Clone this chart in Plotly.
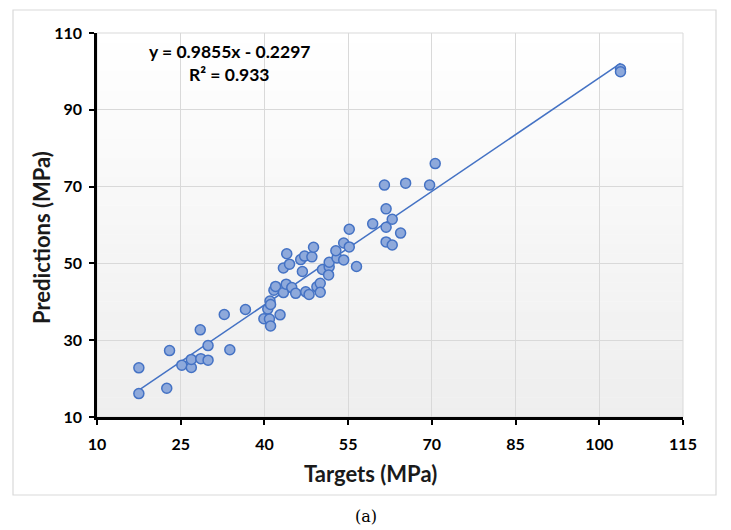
import plotly.graph_objects as go

# ---- data ----
targets = [17.5, 17.5, 22.5, 23.0, 25.2, 26.9, 26.9, 28.5, 28.6, 29.9, 29.9, 32.8, 33.8,
           36.6, 39.9, 40.6, 40.9, 41.1, 41.0, 41.1, 42.8, 41.7, 42.0, 43.4, 43.9, 43.4,
           44.5, 44.0, 44.9, 45.6, 46.5, 47.2, 48.5, 48.8, 46.8, 47.4, 48.0, 49.4, 50.0,
           50.0, 50.4, 51.6, 51.6, 51.5, 53.0, 52.8, 54.2, 54.2, 55.2, 55.2, 56.5, 59.4,
           61.5, 65.3, 61.8, 62.9, 61.8, 64.4, 61.8, 62.9, 69.6, 70.6, 103.8, 103.8]
predictions = [22.8, 16.1, 17.5, 27.3, 23.5, 22.9, 25.0, 32.7, 25.2, 28.6, 24.8, 36.7, 27.5,
               38.0, 35.6, 38.1, 35.5, 33.7, 40.2, 39.3, 36.6, 43.0, 44.0, 42.4, 44.6, 48.8,
               49.8, 52.5, 43.7, 42.2, 51.0, 51.9, 51.7, 54.2, 47.9, 42.6, 41.9, 43.9, 44.8,
               42.5, 48.4, 49.1, 50.3, 47.0, 51.4, 53.3, 55.3, 50.9, 54.3, 58.9, 49.2, 60.3,
               70.4, 70.9, 64.2, 61.5, 59.4, 57.9, 55.6, 54.8, 70.4, 76.0, 100.6, 99.9]
slope = 0.9855
intercept = -0.2297
r_squared = 0.933
x_ticks = [10, 25, 40, 55, 70, 85, 100, 115]
y_ticks = [10, 30, 50, 70, 90, 110]

FONT = "Lato, 'Open Sans', sans-serif"
BLUE = "#4472C4"

# page pixel -> paper coordinate helpers (plot area spans x 97..683, y 33..417 on the page)
def px(xp):
    return (xp - 97) / 586.0

def py(yp):
    return (417 - yp) / 384.0

fit_x = [min(targets), max(targets)]
fit_y = [slope * v + intercept for v in fit_x]

fig = go.Figure()
fig.add_trace(go.Scatter(x=fit_x, y=fit_y, mode="lines",
                         line=dict(color=BLUE, width=1.5), hoverinfo="skip",
                         showlegend=False))
fig.add_trace(go.Scatter(x=targets, y=predictions, mode="markers",
                         marker=dict(size=10, color="#8EA9DB",
                                     line=dict(color=BLUE, width=1.5)),
                         showlegend=False))

shapes = []
# gradient plot background (white at top to light grey at bottom)
n = 40
for i in range(n):
    t = i / n
    c = int(round(0xEE + (0xFF - 0xEE) * (t + 0.5 / n)))
    col = f"rgb({c},{c},{c})"
    shapes.append(dict(type="rect", xref="x domain", yref="y domain",
                       x0=0, x1=1, y0=t, y1=(i + 1) / n + 0.001,
                       fillcolor=col, line=dict(width=0), layer="below"))
shapes.append(dict(type="rect", xref="x domain", yref="y domain", x0=0, x1=1, y0=0, y1=1,
                   line=dict(color="#D9D9D9", width=1), layer="below"))
# outer chart frame
shapes.append(dict(type="rect", xref="paper", yref="paper",
                   x0=px(13), x1=px(716), y0=py(495), y1=py(10),
                   line=dict(color="#D9D9D9", width=1.2), layer="below"))

annotations = [
    dict(text=f"y = {slope}x - {abs(intercept)}", x=px(229), y=py(51.5),
         xref="paper", yref="paper", showarrow=False, xanchor="center", yanchor="middle",
         font=dict(family=FONT, size=17.5, color="black", weight="bold")),
    dict(text=f"R² = {r_squared}", x=px(229), y=py(74),
         xref="paper", yref="paper", showarrow=False, xanchor="center", yanchor="middle",
         font=dict(family=FONT, size=17.5, color="black", weight="bold")),
    dict(text="Targets (MPa)", x=px(370), y=py(473),
         xref="paper", yref="paper", showarrow=False, xanchor="center", yanchor="middle",
         font=dict(family=FONT, size=22, color="#1a1a1a", weight="bold")),
    dict(text="Predictions (MPa)", x=px(41), y=py(237), textangle=-90,
         xref="paper", yref="paper", showarrow=False, xanchor="center", yanchor="middle",
         font=dict(family=FONT, size=22, color="#1a1a1a", weight="bold")),
    dict(text="(a)", x=px(366), y=py(516),
         xref="paper", yref="paper", showarrow=False, xanchor="center", yanchor="middle",
         font=dict(family="'DejaVu Serif', serif", size=16, color="black")),
]

axis_common = dict(showline=True, linecolor="black", linewidth=2.5,
                   ticks="outside", ticklen=5, tickwidth=2, tickcolor="black",
                   showgrid=True, gridcolor="#D9D9D9", gridwidth=1, zeroline=False,
                   tickfont=dict(family=FONT, size=16, color="black", weight="bold"))

# the page adds an 8px body margin, so the figure is drawn 8px smaller and offset
fig.update_layout(
    width=723, height=522,
    margin=dict(l=89, r=48, t=25, b=113),
    paper_bgcolor="white", plot_bgcolor="white",
    shapes=shapes, annotations=annotations,
    xaxis=dict(range=[10, 115], tickvals=x_ticks, ticklabelstandoff=6, **axis_common),
    yaxis=dict(range=[10, 110], tickvals=y_ticks, ticklabelstandoff=4, **axis_common),
)

fig.write_html("out.html")
